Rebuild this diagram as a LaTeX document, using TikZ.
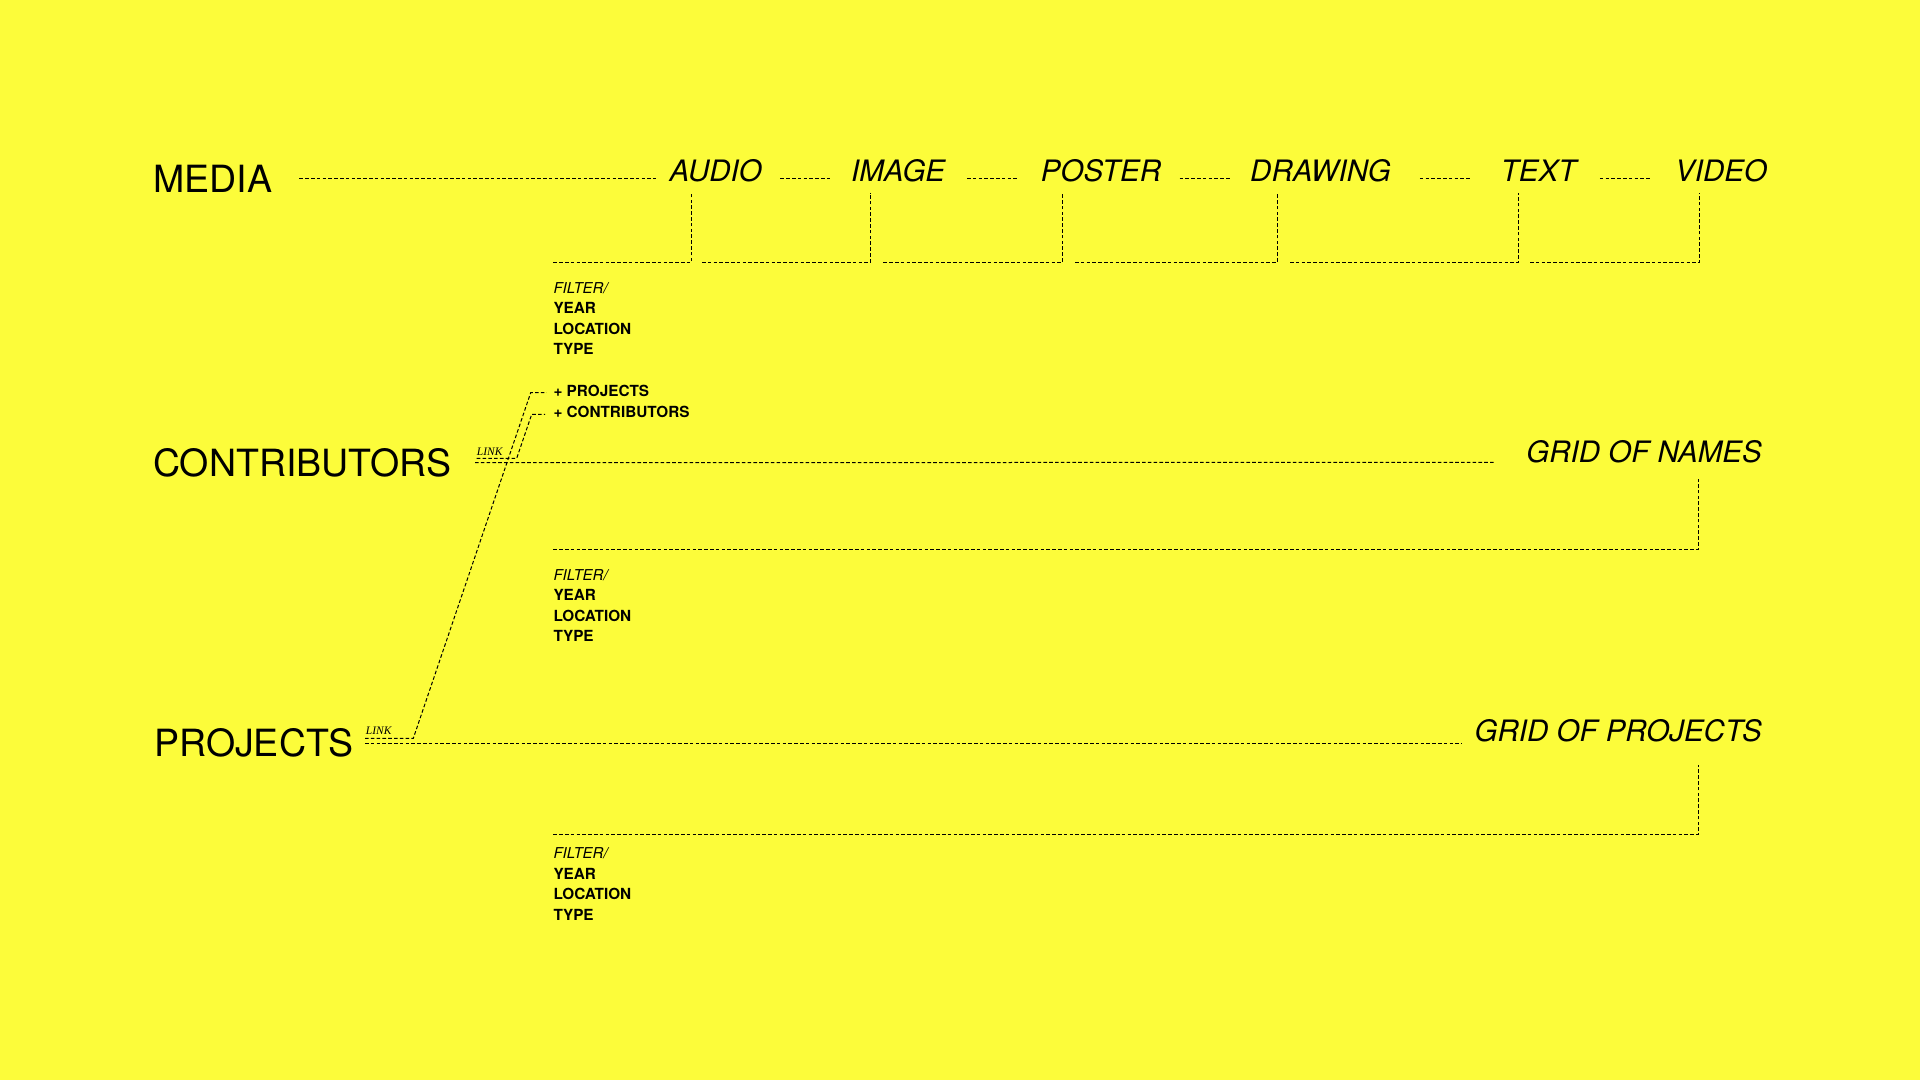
\documentclass[tikz,border=0pt]{standalone}
\usepackage{fontspec}
\setmainfont{TeX Gyre Heros}
\newfontfamily\linkfont{Liberation Serif}
\usetikzlibrary{calc}
\definecolor{bgyellow}{RGB}{252,252,58}
\tikzstyle{bigtitle} = [anchor=base west, inner sep=0, 
font=\fontsize{37.5}{40}\selectfont]
\tikzstyle{kind} = [anchor=base west, inner sep=0, 
font=\fontsize{29.5}{32}\selectfont\itshape]
\tikzstyle{filterhead} = [anchor=base west, inner sep=0, 
font=\fontsize{15}{18}\selectfont\itshape]
\tikzstyle{filteritem} = [anchor=base west, inner sep=0, 
font=\fontsize{15.3}{18}\selectfont\bfseries]
\tikzstyle{linktag} = [anchor=base west, inner sep=0, 
font=\linkfont\fontsize{11.5}{13}\selectfont\itshape]
\tikzstyle{dline} = [line width=1pt, dash pattern=on 3.6pt off 2.2pt]

\begin{document}
\begin{tikzpicture}[x={(1pt,0)}, y={(0,-1pt)}]
    \fill[bgyellow] (0,0) rectangle (1920,1080);
    \useasboundingbox (0,0) rectangle (1920,1080);

    % Row titles
    \node (media) [bigtitle] at (153.3,192.7) {MEDIA};
    \node (contrib) [bigtitle] at (153,476.5) {CONTRIBUTORS};
    \node (projects) [bigtitle] at (154.3,756.5) {PROJECTS};

    % Media kinds
    \node (audio) [kind] at (669.3,181) {AUDIO};
    \node (image) [kind] at (851,181) {IMAGE};
    \node (poster) [kind] at (1040.7,181) {POSTER};
    \node (drawing) [kind] at (1250,181) {DRAWING};
    \node (txt) [kind] at (1500.7,181) {TEXT};
    \node (video) [kind] at (1675,181) {VIDEO};

    % Grids
    \node (grnames) [kind, anchor=base east] at (1762,462.7) {GRID OF NAMES};
    \node (grprojects) [kind, anchor=base east] at (1762,741.7) {GRID OF PROJECTS};

    % Links
    \node (addproj) [filteritem] at (553.3,396.7) {+ PROJECTS};
    \node (addcontr) [filteritem] at (553.3,417.7) {+ CONTRIBUTORS};
    \node (clink) [linktag] at (476.7,455) {LINK};
    \node (plink) [linktag] at (365.7,734) {LINK};

    % Filter blocks
    \foreach \b/\y/\o in {1/262.3/31, 2/549/31, 3/834.3/24.3} {
        \node (filter\b) [filterhead] at (553.3,\y+\o) {FILTER/};
        \foreach \w [count=\i] in {YEAR,LOCATION,TYPE}
            \node (item\b-\i) [filteritem] at (553.3,\y+\o+20.5*\i) {\w};
    }

    % Media row
    \draw [dline] ($(media.base east)+(27,-14.4)$) -- ($(audio.base west)+(-13,-2.7)$);
    \foreach \a/\c in {audio/image, image/poster, poster/drawing, drawing/txt, txt/video}
        \draw [dline] ($(\a.base east)!0.5!(\c.base west)+(-26,-2.7)$) -- ++(52,0);
    \foreach \n/\dx/\hx in {audio/22/553.3, image/19.3/702, poster/21.6/883.3, drawing/27.3/1075, txt/17.6/1290, video/24.3/1530}
        \draw [dline] ($(filter1.base west)+(\hx-553.3,-31)$) -| ($(\n.base west)+(\dx,11.7)$);

    % Contributors row
    \draw [dline] ($(clink.base west)+(-1.7,7.7)$) -- ($(grnames.base east)+(-267,-0.4)$);
    \draw [dline] ($(filter2.base west)+(0,-31)$) -| ($(grnames.base east)+(-63.7,16.6)$);
    \draw [dline] ($(clink.base west)+(0,3.3)$) -- ++(40,0) -- ($(addcontr.base west)+(-21.6,-3.4)$) -- ($(addcontr.base west)+(-8.3,-3.4)$);

    % Projects row
    \draw [dline] ($(plink.base west)+(-0.7,9.3)$) -- ($(grprojects.base east)+(-300,1.6)$);
    \draw [dline] ($(filter3.base west)+(0,-24.3)$) -| ($(grprojects.base east)+(-63.7,23.3)$);
    \draw [dline] ($(plink.base west)+(-0.7,4.3)$) -- ++(48.3,0) -- ($(addproj.base west)+(-22.6,-4)$) -- ($(addproj.base west)+(-6.6,-4)$);
\end{tikzpicture}
\end{document}
